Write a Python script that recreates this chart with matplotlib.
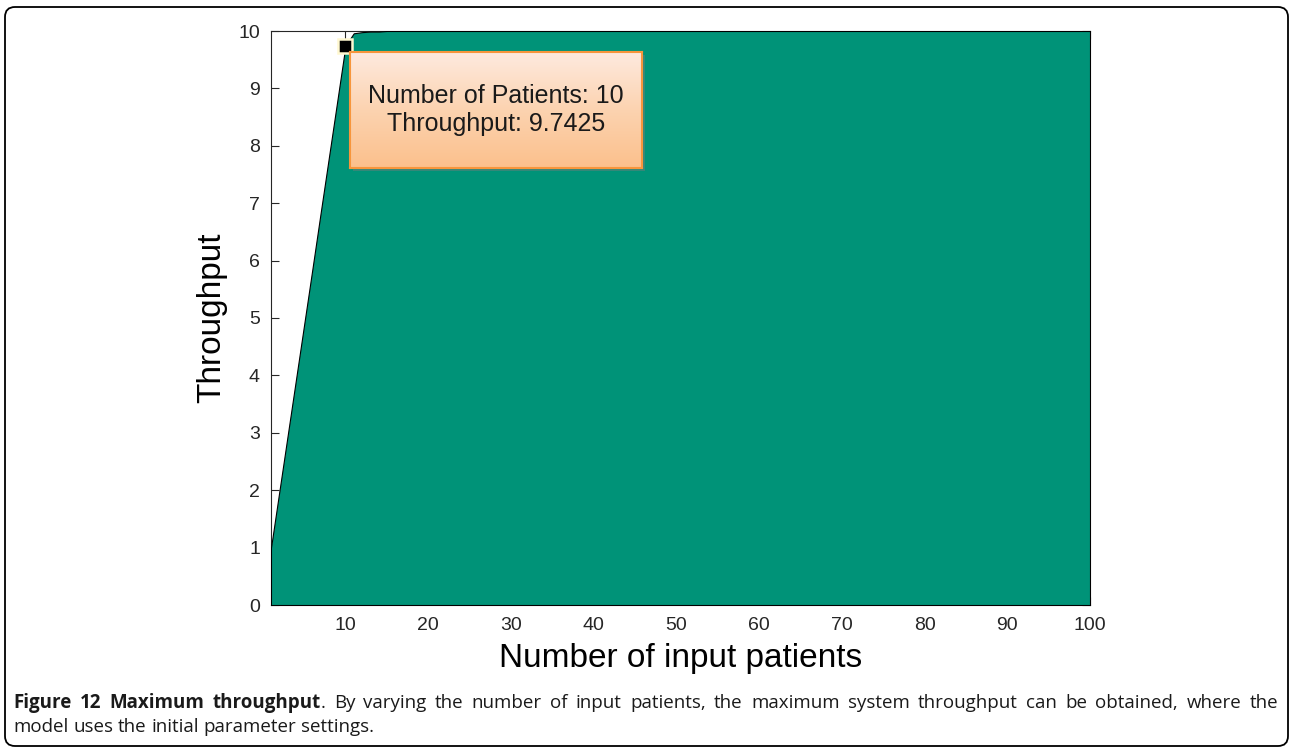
import numpy as np
import matplotlib.pyplot as plt
from matplotlib.colors import LinearSegmentedColormap
from matplotlib.patches import FancyBboxPatch, Rectangle

plt.rcParams["font.family"] = ["Liberation Sans", "DejaVu Sans"]

# simulated throughput for 1..100 input patients
patients = list(range(1, 101))
throughput = [
    1.00, 1.97, 2.94, 3.91, 4.88, 5.85, 6.83, 7.80, 8.77, 9.7425,
    9.96, 9.98, 9.99, 9.99, 10.0, 10.0, 10.0, 10.0, 10.0, 10.0,
    10.0, 10.0, 10.0, 10.0, 10.0, 10.0, 10.0, 10.0, 10.0, 10.0,
    10.0, 10.0, 10.0, 10.0, 10.0, 10.0, 10.0, 10.0, 10.0, 10.0,
    10.0, 10.0, 10.0, 10.0, 10.0, 10.0, 10.0, 10.0, 10.0, 10.0,
    10.0, 10.0, 10.0, 10.0, 10.0, 10.0, 10.0, 10.0, 10.0, 10.0,
    10.0, 10.0, 10.0, 10.0, 10.0, 10.0, 10.0, 10.0, 10.0, 10.0,
    10.0, 10.0, 10.0, 10.0, 10.0, 10.0, 10.0, 10.0, 10.0, 10.0,
    10.0, 10.0, 10.0, 10.0, 10.0, 10.0, 10.0, 10.0, 10.0, 10.0,
    10.0, 10.0, 10.0, 10.0, 10.0, 10.0, 10.0, 10.0, 10.0, 10.0,
]
x_ticks = [10, 20, 30, 40, 50, 60, 70, 80, 90, 100]
y_ticks = list(range(0, 11))
tip_x, tip_y = 10, 9.7425

caption_line1 = [
    [("Figure", "bold")], [("12", "bold")], [("Maximum", "bold")],
    [("throughput", "bold"), (".", "normal")],
    "By varying the number of input patients, the maximum system throughput can be obtained, where the",
]
caption_line2 = "model uses the initial parameter settings."

W, H = 1290, 748
fig = plt.figure(figsize=(W / 100, H / 100), dpi=100)
ax = fig.add_axes([271 / W, 1 - 605 / H, 819 / W, 574 / H])

# area drawn above the axis layer, like MATLAB's bottom layer
ax.fill_between(patients, throughput, 0, facecolor="#009378",
                edgecolor="black", linewidth=0.8, zorder=3)
ax.plot([tip_x], [tip_y], "s", color="black", ms=10, mec="#FFF8D0", mew=1.8,
        zorder=5, clip_on=False)

ax.set_xlim(1, 100)
ax.set_ylim(0, 10)
ax.set_xticks(x_ticks)
ax.set_yticks(y_ticks)
ax.tick_params(direction="in", length=6, width=0.8, top=True, right=True,
               labelsize=14, pad=8, colors="#262626")
ax.tick_params(axis="x", pad=9)
ax.set_xlabel("Number of input patients", fontsize=24, labelpad=6)
ax.set_ylabel("Throughput", fontsize=24, labelpad=8)
for s in ax.spines.values():
    s.set_linewidth(0.8)
    s.set_color("#262626")

# data tip box
shadow = Rectangle((353 / W, 1 - 171 / H), 292 / W, 116 / H,
                   transform=fig.transFigure, facecolor="#7a7a7a",
                   alpha=0.45, edgecolor="none", zorder=1)
fig.patches.append(shadow)
tip_ax = fig.add_axes([350 / W, 1 - 168 / H, 292 / W, 116 / H])
tip_ax.set_zorder(5)
grad = np.linspace(0, 1, 256).reshape(-1, 1)
cmap = LinearSegmentedColormap.from_list("peach", ["#FEEADF", "#FCD3B0", "#FBC08C"])
tip_ax.imshow(grad, cmap=cmap, aspect="auto", extent=[0, 1, 0, 1], origin="upper")
tip_ax.set_xticks([])
tip_ax.set_yticks([])
for s in tip_ax.spines.values():
    s.set_color("#F7963C")
    s.set_linewidth(1.5)
tip_ax.text(0.5, 0.5, f"Number of Patients: {tip_x}\nThroughput: {tip_y}",
            ha="center", va="center", fontsize=18, color="#1a1a1a",
            linespacing=1.2, transform=tip_ax.transAxes)

# figure frame
frame = FancyBboxPatch((0.05, 0.02), 12.83, 7.39,
                       boxstyle="round,pad=0,rounding_size=0.1",
                       transform=fig.dpi_scale_trans, facecolor="none",
                       edgecolor="black", linewidth=1.3, zorder=0)
fig.patches.append(frame)

# justified caption
cap_font = ["Open Sans", "DejaVu Sans"]
cap_size = 13.5
fig.canvas.draw()
renderer = fig.canvas.get_renderer()


def place_line(tokens, y_px, x0, x1, justify=True):
    groups = []
    for tok in tokens:
        if isinstance(tok, str):
            groups.extend([[(w, "normal")] for w in tok.split()])
        else:
            groups.append(tok)
    placed = []
    widths = []
    for g in groups:
        items = []
        gw = 0
        for word, weight in g:
            t = fig.text(0, 1 - y_px / H, word, fontsize=cap_size, fontweight=weight,
                         family=cap_font, va="center", ha="left", color="#1a1a1a")
            w = t.get_window_extent(renderer).width
            items.append((t, w))
            gw += w
        placed.append(items)
        widths.append(gw)
    gap = (x1 - x0 - sum(widths)) / (len(groups) - 1) if justify else 4.8
    x = x0
    for items, gw in zip(placed, widths):
        xx = x
        for t, w in items:
            t.set_x(xx / W)
            xx += w
        x += gw + gap


place_line(caption_line1, 703, 13, 1278)
place_line([caption_line2], 727, 13, 1278, justify=False)

fig.savefig("out.png", dpi=100)
